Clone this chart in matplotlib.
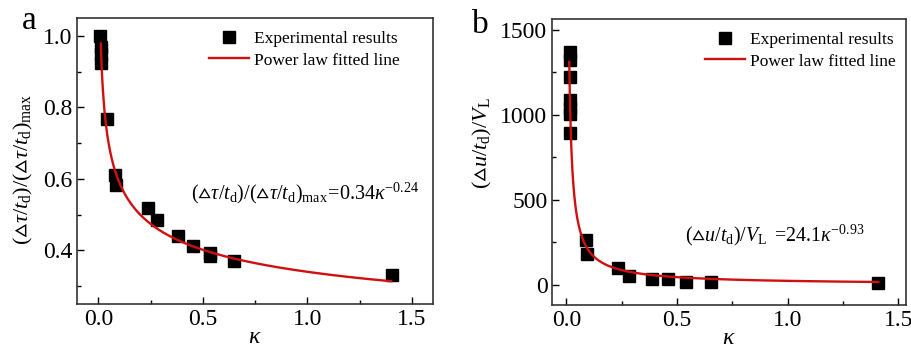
import numpy as np
import matplotlib
matplotlib.use("Agg")
import matplotlib.pyplot as plt
from matplotlib.ticker import MultipleLocator

plt.rcParams['font.family'] = ['Liberation Serif', 'DejaVu Serif']
plt.rcParams['mathtext.fontset'] = 'custom'
plt.rcParams['mathtext.rm'] = 'Liberation Serif'
plt.rcParams['mathtext.it'] = 'Liberation Serif:italic'
plt.rcParams['mathtext.bf'] = 'Liberation Serif:bold'
plt.rcParams['mathtext.fallback'] = 'stix'

# ---- data ----
kappa_a = [0.010, 0.013, 0.015, 0.013, 0.04, 0.08, 0.085, 0.24, 0.28, 0.38, 0.454, 0.534, 0.534, 0.647, 1.406]
tau_ratio = [1.00, 0.97, 0.95, 0.925, 0.768, 0.61, 0.584, 0.52, 0.486, 0.44, 0.413, 0.394, 0.384, 0.369, 0.331]

kappa_b = [0.018, 0.018, 0.018, 0.018, 0.018, 0.018, 0.018, 0.09, 0.092, 0.236, 0.282, 0.386, 0.458, 0.539, 0.652, 1.408]
u_ratio = [1368, 1325, 1225, 1085, 1040, 1003, 895, 265, 182, 98, 53, 33, 33, 20, 16, 12]

fit_a = (0.34, -0.24)
fit_b = (24.1, -0.93)
fit_range_a = (0.0122, 1.40)
fit_range_b = (0.0136, 1.41)

TRI = '\u25b5'

fig = plt.figure(figsize=(9.12, 3.49), dpi=100)
ax1 = fig.add_axes([0.0848, 0.129, 0.390, 0.819])
ax2 = fig.add_axes([0.6056, 0.126, 0.3878, 0.819])

red = '#d01010'

def style(ax):
    ax.tick_params(which='both', direction='in', top=False, right=False, labelsize=17, width=1.0)
    ax.tick_params(which='major', length=5)
    ax.tick_params(which='minor', length=3)
    for s in ax.spines.values():
        s.set_linewidth(1.2)
        s.set_color('#333333')
    ax.xaxis.set_major_locator(MultipleLocator(0.5))
    ax.xaxis.set_minor_locator(MultipleLocator(0.25))

leg_kw = dict(fontsize=12.5, frameon=False, handlelength=2.3, handletextpad=0.3,
              borderaxespad=0.0, borderpad=0.0, labelspacing=0.3, loc='upper left')

# Panel a
k = np.linspace(*fit_range_a, 400)
ax1.plot(kappa_a, tau_ratio, 's', color='black', ms=8, label='Experimental results', zorder=2)
ax1.plot(k, fit_a[0] * k ** fit_a[1], '-', color=red, lw=1.7, label='Power law fitted line', zorder=3)
ax1.set_xlim(-0.1, 1.6)
ax1.set_ylim(0.25, 1.05)
style(ax1)
ax1.yaxis.set_major_locator(MultipleLocator(0.2))
ax1.yaxis.set_minor_locator(MultipleLocator(0.1))
ax1.set_yticks([0.4, 0.6, 0.8, 1.0])
ax1.set_xlabel(r'$\kappa$', fontsize=17, labelpad=-2)
ax1.set_ylabel('$(' + TRI + r'\tau/t_\mathrm{d})/(' + TRI + r'\tau/t_\mathrm{d})_\mathrm{max}$', fontsize=16)
ax1.yaxis.set_label_coords(-0.12, 0.47)
ax1.legend(bbox_to_anchor=(0.37, 0.955), **leg_kw)
ax1.text(0.99, 0.56, '$(' + TRI + r'\tau/t_\mathrm{d})/(' + TRI + r'\tau/t_\mathrm{d})_\mathrm{max}\!=\!0.34\kappa^{-0.24}$',
         fontsize=14.5, ha='center', va='center')
fig.text(0.032, 0.94, 'a', fontsize=24, ha='center', va='center')

# Panel b
k = np.linspace(*fit_range_b, 600)
ax2.plot(kappa_b, u_ratio, 's', color='black', ms=8, label='Experimental results', zorder=2)
ax2.plot(k, fit_b[0] * k ** fit_b[1], '-', color=red, lw=1.7, label='Power law fitted line', zorder=3)
ax2.set_xlim(-0.063, 1.535)
ax2.set_ylim(-118, 1563)
style(ax2)
ax2.yaxis.set_major_locator(MultipleLocator(500))
ax2.yaxis.set_minor_locator(MultipleLocator(250))
ax2.set_xlabel(r'$\kappa$', fontsize=17, labelpad=-2)
ax2.set_ylabel('$(' + TRI + r'u/t_\mathrm{d})/V_\mathrm{L}$', fontsize=16)
ax2.yaxis.set_label_coords(-0.165, 0.566)
ax2.legend(bbox_to_anchor=(0.432, 0.955), **leg_kw)
ax2.text(0.94, 290, '$(' + TRI + r'u/t_\mathrm{d})/V_\mathrm{L}\ =\!24.1\kappa^{-0.93}$',
         fontsize=14.3, ha='center', va='center')
fig.text(0.527, 0.928, 'b', fontsize=24, ha='center', va='center')

fig.savefig('out.png', dpi=100)
